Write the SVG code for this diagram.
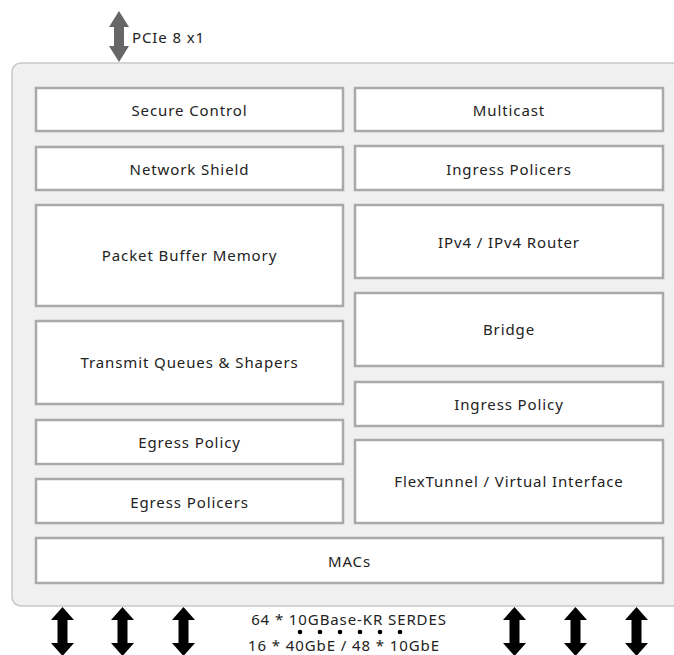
<svg xmlns="http://www.w3.org/2000/svg" width="674" height="655" viewBox="0 0 674 655">
<defs>
<style>
.outer{fill:#f0f0f0;stroke:#c8c8c8;stroke-width:1.5}
.box{fill:#fff;stroke:#a9a9ab;stroke-width:2.5}
.t{font-family:"Noto Sans","Open Sans",sans-serif;font-size:15px;letter-spacing:0.9px;fill:#222;text-anchor:middle;dominant-baseline:central}
.lbl{font-family:"Noto Sans","Open Sans",sans-serif;font-size:15px;letter-spacing:0.9px;fill:#222}
.ba{fill:#000}
</style>
<path id="dbl" d="M0,0 L11.5,13 L5,13 L5,36 L11.5,36 L0,49 L-11.5,36 L-5,36 L-5,13 L-11.5,13 Z"/>
</defs>
<rect class="outer" x="12" y="63" width="680" height="543" rx="9"/>
<g id="secure-control"><rect class="box" x="36" y="88" width="307" height="43"/><text class="t" x="189.5" y="110">Secure Control</text></g>
<g id="network-shield"><rect class="box" x="36" y="147" width="307" height="43"/><text class="t" x="189.5" y="169">Network Shield</text></g>
<g id="packet-buffer"><rect class="box" x="36" y="205" width="307" height="101"/><text class="t" x="189.5" y="255">Packet Buffer Memory</text></g>
<g id="transmit-queues"><rect class="box" x="36" y="321" width="307" height="83"/><text class="t" x="189.5" y="362">Transmit Queues &amp; Shapers</text></g>
<g id="egress-policy"><rect class="box" x="36" y="420" width="307" height="44"/><text class="t" x="189.5" y="442">Egress Policy</text></g>
<g id="egress-policers"><rect class="box" x="36" y="479" width="307" height="44"/><text class="t" x="189.5" y="502">Egress Policers</text></g>
<g id="multicast"><rect class="box" x="355" y="88" width="308" height="43"/><text class="t" x="509" y="110">Multicast</text></g>
<g id="ingress-policers"><rect class="box" x="355" y="146" width="308" height="44"/><text class="t" x="509" y="169">Ingress Policers</text></g>
<g id="ipv4-router"><rect class="box" x="355" y="205" width="308" height="73"/><text class="t" x="509" y="242">IPv4 / IPv4 Router</text></g>
<g id="bridge"><rect class="box" x="355" y="293" width="308" height="73"/><text class="t" x="509" y="329">Bridge</text></g>
<g id="ingress-policy"><rect class="box" x="355" y="382" width="308" height="44"/><text class="t" x="509" y="404">Ingress Policy</text></g>
<g id="flextunnel"><rect class="box" x="355" y="440" width="308" height="83"/><text class="t" x="509" y="481">FlexTunnel / Virtual Interface</text></g>
<g id="macs"><rect class="box" x="36" y="538" width="627" height="45"/><text class="t" x="349.5" y="561">MACs</text></g>
<g id="connectors">
<path fill="#666" d="M119,11 L129,27 L124,27 L124,46 L129,46 L119,62 L109,46 L114,46 L114,27 L109,27 Z"/>
<text class="lbl" x="132" y="43">PCIe 8 x1</text>
<use href="#dbl" class="ba" x="62.5" y="607"/>
<use href="#dbl" class="ba" x="122.5" y="607"/>
<use href="#dbl" class="ba" x="183.5" y="607"/>
<use href="#dbl" class="ba" x="514.5" y="607"/>
<use href="#dbl" class="ba" x="575.5" y="607"/>
<use href="#dbl" class="ba" x="636.5" y="607"/>
<text class="t" x="349" y="619">64 * 10GBase-KR SERDES</text>
<g fill="#000"><circle cx="300" cy="632" r="2.3"/><circle cx="320" cy="632" r="2.3"/><circle cx="340" cy="632" r="2.3"/><circle cx="360" cy="632" r="2.3"/><circle cx="380" cy="632" r="2.3"/><circle cx="400" cy="632" r="2.3"/></g>
<text class="t" x="344" y="645">16 * 40GbE / 48 * 10GbE</text>
</g>
</svg>
